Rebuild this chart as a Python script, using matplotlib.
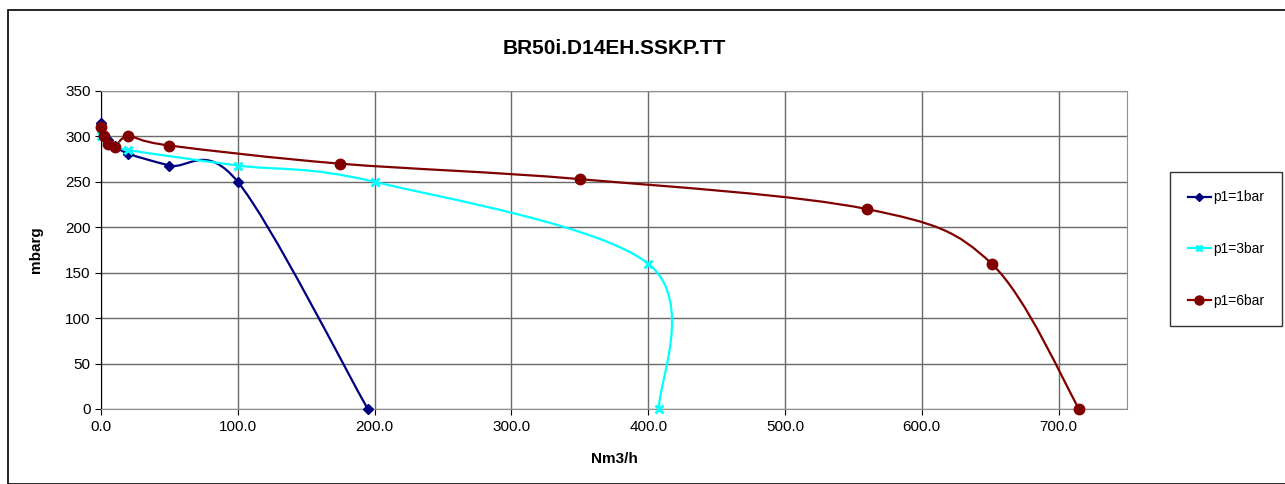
import numpy as np
import matplotlib.pyplot as plt
from matplotlib.path import Path
from matplotlib.patches import PathPatch, Rectangle
from matplotlib.lines import Line2D

plt.rcParams['font.family'] = ['Liberation Sans', 'DejaVu Sans']

# flow (Nm3/h) vs pressure (mbarg) for each inlet pressure
x_1bar = [0, 5, 10, 20, 50, 100, 195]
y_1bar = [315, 296, 290, 281, 268, 250, 0]
x_3bar = [0, 10, 20, 100, 200, 400, 408]
y_3bar = [300, 290, 285, 268, 250, 160, 0]
x_6bar = [0, 2, 5, 10, 20, 50, 175, 350, 560, 651, 715]
y_6bar = [310, 300, 292, 288, 300, 290, 270, 253, 220, 160, 0]

labels = ['p1=1bar', 'p1=3bar', 'p1=6bar']
colors = ['#000080', '#00FFFF', '#800000']
markers = ['D', 'x', 'o']
msizes = [5, 6, 7.5]


def smooth_path(xs, ys):
    # Excel-style smoothed line: cubic Bezier segments, Catmull-Rom control points
    p = np.column_stack([xs, ys]).astype(float)
    n = len(p)
    verts = [p[0]]
    codes = [Path.MOVETO]
    for i in range(n - 1):
        p0 = p[i - 1] if i > 0 else p[i]
        p3 = p[i + 2] if i + 2 < n else p[i + 1]
        c1 = p[i] + (p[i + 1] - p0) / 6
        c2 = p[i + 1] - (p3 - p[i]) / 6
        verts += [c1, c2, p[i + 1]]
        codes += [Path.CURVE4] * 3
    return Path(verts, codes)


fig = plt.figure(figsize=(12.85, 4.84), dpi=100)
fig.patches.append(Rectangle((8 / 1285, 0), 1 - 8 / 1285 + 0.01, 1 - 10 / 484,
                             transform=fig.transFigure, fill=False,
                             edgecolor='black', linewidth=1.2))

ax = fig.add_axes([101 / 1285, 1 - 409 / 484, 1026 / 1285, 318 / 484])

series = [(x_1bar, y_1bar), (x_3bar, y_3bar), (x_6bar, y_6bar)]
handles = []
for (xs, ys), lab, c, m, ms in zip(series, labels, colors, markers, msizes):
    ax.add_patch(PathPatch(smooth_path(xs, ys), facecolor='none', edgecolor=c,
                           linewidth=1.6, zorder=3, clip_on=False))
    mew = 2 if m == 'x' else 1
    ax.plot(xs, ys, linestyle='none', marker=m, color=c, markersize=ms,
            markeredgewidth=mew, zorder=4, clip_on=False)
    handles.append(Line2D([], [], color=c, marker=m, markersize=ms - 1,
                          markeredgewidth=mew, linewidth=1.6))

ax.set_xlim(0, 750)
ax.set_ylim(0, 350)
ax.set_xticks(np.arange(0, 701, 100))
ax.set_xticklabels([f'{v:.1f}' for v in np.arange(0, 701, 100)])
ax.set_yticks(np.arange(0, 351, 50))
ax.grid(True, color='#6a6a6a', linewidth=1)
ax.set_axisbelow(True)
for side in ['top', 'right', 'bottom']:
    ax.spines[side].set_color('#909090')
ax.spines['left'].set_color('black')
ax.tick_params(direction='out', length=4, labelsize=11, colors='black')
ax.tick_params(axis='x', pad=4)

ax.set_title('BR50i.D14EH.SSKP.TT', fontsize=15, fontweight='bold', pad=27)
ax.set_xlabel('Nm3/h', fontsize=11, fontweight='bold', labelpad=13)
ax.set_ylabel('mbarg', fontsize=11, fontweight='bold', labelpad=16)

leg = fig.legend(handles, labels, loc='center', bbox_to_anchor=(1226 / 1285, 1 - 249 / 484),
                 fontsize=10, frameon=True, fancybox=False, edgecolor='black',
                 labelspacing=2.7, handlelength=1.7, handletextpad=0.15,
                 borderpad=1.3, borderaxespad=0)
leg.get_frame().set_linewidth(1)

fig.savefig('out.png', dpi=100)
